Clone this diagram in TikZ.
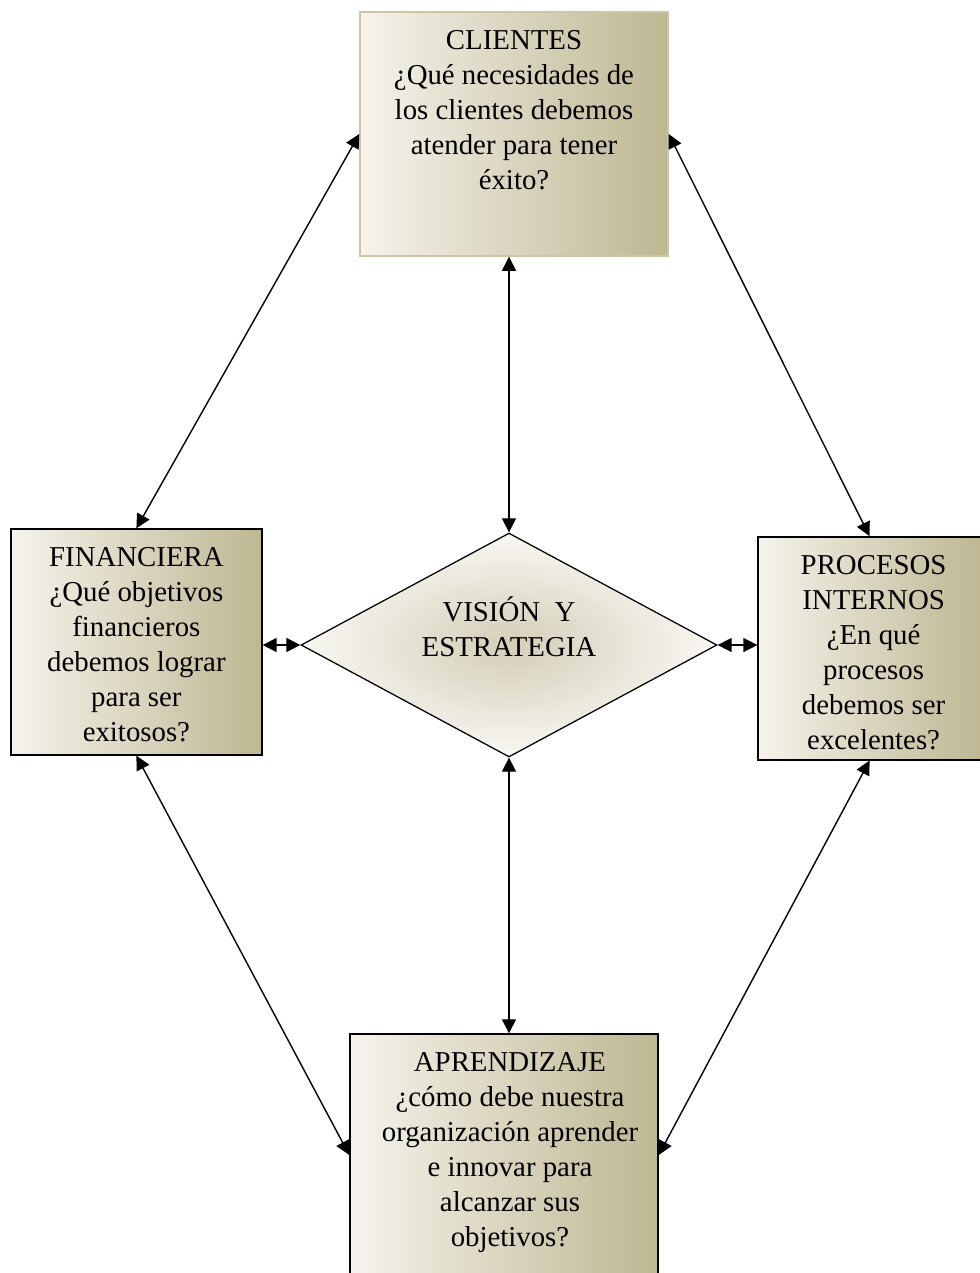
\documentclass[tikz,border=0pt]{standalone}
\usepackage{fontspec}
\setmainfont{Liberation Serif}
\usetikzlibrary{shapes.geometric, arrows.meta}
\definecolor{boxlight}{RGB}{245,243,236}
\definecolor{boxdark}{RGB}{190,183,146}
\definecolor{boxedge}{RGB}{204,197,166}
\definecolor{visioncentre}{RGB}{212,206,184}
\definecolor{visionedge}{RGB}{248,247,242}

\begin{document}
\begin{tikzpicture}[
    caja/.style={rectangle, draw=black, line width=1pt, left color=boxlight, right color=boxdark, inner sep=0pt},
    texto/.style={align=center, inner sep=0pt, anchor=north, font=\fontsize{20.5}{24.9}\selectfont},
    flecha/.style={{Triangle[length=10pt,width=10pt]}-{Triangle[length=10pt,width=10pt]}, line width=1pt}
]
    \useasboundingbox (0,0) rectangle (24.5,-31.825);

    \node[caja, draw=boxedge, minimum width=7.7cm, minimum height=6.1cm] (clientes) at (12.85,-3.35) {};
    \node[caja, minimum width=6.275cm, minimum height=5.65cm] (financiera) at (3.41,-16.05) {};
    \node[caja, minimum width=5.575cm, minimum height=5.575cm] (procesos) at (21.74,-16.21) {};
    \node[caja, minimum width=7.7cm, minimum height=6.05cm] (aprendizaje) at (12.6,-28.875) {};
    \node[diamond, draw=black, line width=0.9pt, inner color=visioncentre, outer color=visionedge,
          aspect=1.857, inner sep=0pt, minimum width=10.4cm, minimum height=5.6cm] (vision) at (12.725,-16.125) {};

    \node[texto] (clientes-txt) at ([yshift=-0.47cm]clientes.north)
        {CLIENTES\\¿Qué necesidades de\\los clientes debemos\\atender para tener\\éxito?};
    \node[texto] (financiera-txt) at ([yshift=-0.47cm]financiera.north)
        {FINANCIERA\\¿Qué objetivos\\financieros\\debemos lograr\\para ser\\exitosos?};
    \node[texto] (procesos-txt) at ([xshift=0.1cm,yshift=-0.47cm]procesos.north)
        {PROCESOS\\INTERNOS\\¿En qué\\procesos\\debemos ser\\excelentes?};
    \node[texto] (aprendizaje-txt) at ([xshift=0.15cm,yshift=-0.47cm]aprendizaje.north)
        {APRENDIZAJE\\¿cómo debe nuestra\\organización aprender\\e innovar para\\alcanzar sus\\objetivos?};
    \node[texto, anchor=south] (vision-txt) at ([yshift=-0.3cm]vision.center)
        {VISIÓN~ Y\\ESTRATEGIA};

    \draw[flecha] (clientes.south -| vision.north) -- (vision.north);
    \draw[flecha] (vision.south) -- (vision.south |- aprendizaje.north);
    \draw[flecha] (vision.west -| financiera.east) -- (vision.west);
    \draw[flecha] (vision.east) -- (vision.east -| procesos.west);

    \draw[flecha] (clientes.west) -- (financiera.north);
    \draw[flecha] (clientes.east) -- (procesos.north);
    \draw[flecha] (financiera.south) -- (aprendizaje.west);
    \draw[flecha] (procesos.south) -- (aprendizaje.east);
\end{tikzpicture}
\end{document}
